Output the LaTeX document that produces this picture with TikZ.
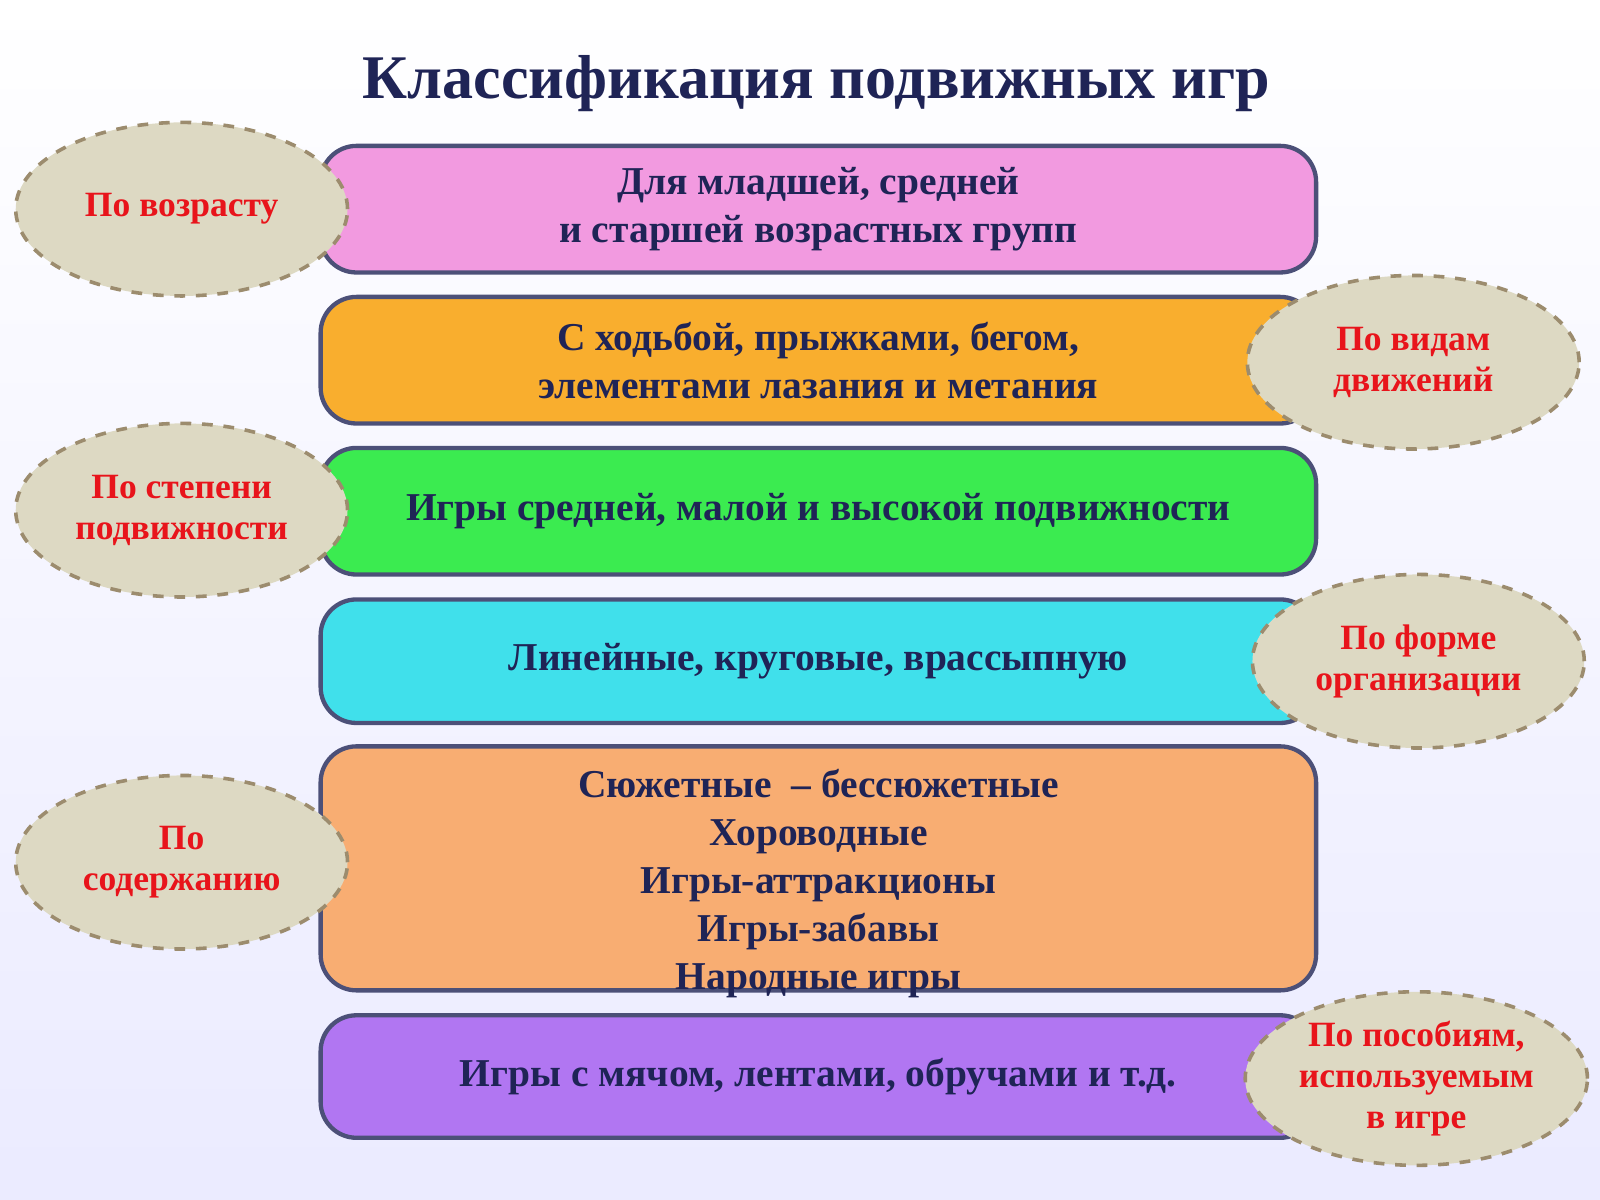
\documentclass[tikz,border=0pt]{standalone}
\usepackage{fontspec}
\setmainfont{Liberation Serif}
\usetikzlibrary{shapes.geometric}
\definecolor{navy}{HTML}{1F2456}
\definecolor{redtxt}{HTML}{E8141B}
\definecolor{oval}{HTML}{DDD9C3}
\definecolor{ovalline}{HTML}{9C8C6E}
\tikzset{
  group/.style={draw=navy!80, line width=1.2pt, rounded corners=10pt, minimum width=9.75cm, align=center, text=navy, font=\bfseries\fontsize{11}{13.4}\selectfont},
  crit/.style={ellipse, draw=ovalline, dashed, line width=1pt, fill=oval, minimum width=3.25cm, minimum height=1.7cm, inner sep=1pt, align=center, text=redtxt, font=\bfseries\fontsize{9.9}{11.5}\selectfont}
}
\begin{document}
\begin{tikzpicture}[x=0.01cm, y=-0.01cm]
    \useasboundingbox[top color=white, bottom color=blue!8] (0, 0) rectangle (1568, 1176);
    \node (T) at (800, 82) [text=navy, font=\bfseries\fontsize{17.3}{20}\selectfont] {Классификация подвижных игр};
    \node (A) at (802, 205) [group, fill={rgb,255:red,242;green,154;blue,224}, minimum height=1.24cm] {Для младшей, средней\\и старшей возрастных групп};
    \node (B) at (802, 353) [group, fill={rgb,255:red,249;green,174;blue,46}, minimum height=1.24cm] {С ходьбой, прыжками, бегом,\\элементами лазания и метания};
    \node (C) at (802, 501) [group, fill={rgb,255:red,59;green,235;blue,80}, minimum height=1.24cm] {Игры средней, малой и высокой подвижности};
    \node (D) at (802, 648) [group, fill={rgb,255:red,64;green,224;blue,235}, minimum height=1.21cm] {Линейные, круговые, врассыпную};
    \node (E) at (802, 851) [group, fill={rgb,255:red,248;green,173;blue,114}, minimum height=2.39cm, inner ysep=0pt] {};
    \node (E0) at (802, 866) [align=center, text=navy, font=\bfseries\fontsize{11}{13.4}\selectfont] {Сюжетные \ -- бессюжетные\\Хороводные\\Игры-аттракционы\\Игры-забавы\\Народные игры};
    \node (F) at (802, 1055) [group, fill={rgb,255:red,177;green,118;blue,242}, minimum height=1.2cm] {Игры с мячом, лентами, обручами и т.д.};
    \node (A1) at (178, 205) [crit] {По возрасту};
    \node (B1) at (1385, 355) [crit] {По видам\\движений};
    \node (C1) at (178, 500) [crit] {По степени\\подвижности};
    \node (D1) at (1390, 648) [crit] {По форме\\организации};
    \node (E1) at (178, 845) [crit] {По\\содержанию};
    \node (F1) at (1388, 1057) [crit] {По пособиям,\\используемым\\в игре};
  \end{tikzpicture}
\end{document}
